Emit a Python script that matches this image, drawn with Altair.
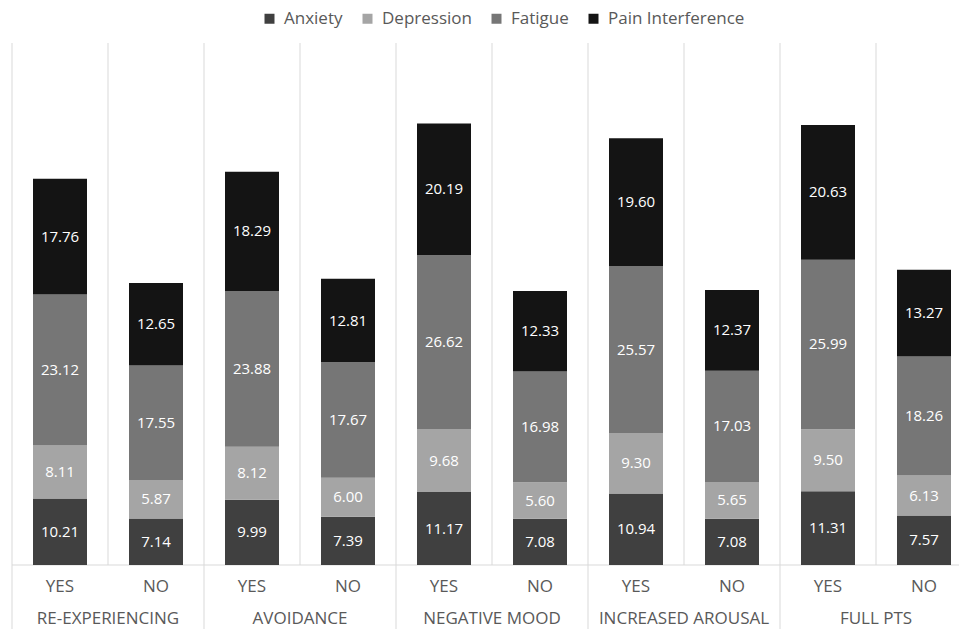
import altair as alt
import pandas as pd

# PTSD symptom cluster groups, each split into YES / NO
groups = ["RE-EXPERIENCING", "AVOIDANCE", "NEGATIVE MOOD", "INCREASED AROUSAL", "FULL PTS"]
answers = ["YES", "NO"]
measures = ["Anxiety", "Depression", "Fatigue", "Pain Interference"]
colors = ["#404040", "#a5a5a5", "#767676", "#141414"]

# one value per bar, bars ordered group by group (YES, NO)
anxiety = [10.21, 7.14, 9.99, 7.39, 11.17, 7.08, 10.94, 7.08, 11.31, 7.57]
depression = [8.11, 5.87, 8.12, 6.00, 9.68, 5.60, 9.30, 5.65, 9.50, 6.13]
fatigue = [23.12, 17.55, 23.88, 17.67, 26.62, 16.98, 25.57, 17.03, 25.99, 18.26]
pain = [17.76, 12.65, 18.29, 12.81, 20.19, 12.33, 19.60, 12.37, 20.63, 13.27]
series = [anxiety, depression, fatigue, pain]

rows = []
for i in range(len(groups) * len(answers)):
    for k, (m, vals) in enumerate(zip(measures, series)):
        rows.append(dict(slot=i + 0.5, group=groups[i // 2], answer=answers[i % 2],
                         measure=m, order=k, value=vals[i]))
df = pd.DataFrame(rows)

bars_df = pd.DataFrame({"slot": [i + 0.5 for i in range(10)],
                        "answer": [answers[i % 2] for i in range(10)]})
groups_df = pd.DataFrame({"slot": [2 * g + 1 for g in range(len(groups))], "group": groups})
minor_df = pd.DataFrame({"b": [1, 3, 5, 7, 9]})
major_df = pd.DataFrame({"b": [0, 2, 4, 6, 8]})
base_df = pd.DataFrame({"v": [0]})

W, H = 947, 522
SLOT = 96  # pixel width of one category slot
LINE = "#d9d9d9"
TEXT = "#595959"

xs = alt.Scale(domain=[0, W / SLOT], nice=False, zero=False, padding=0)
ys = alt.Scale(domain=[0, 80], nice=False)

minor = alt.Chart(minor_df).mark_rule(color=LINE, strokeWidth=1).encode(
    x=alt.X("b:Q", scale=xs, axis=None), y=alt.value(0), y2=alt.value(H))
major = alt.Chart(major_df).mark_rule(color=LINE, strokeWidth=1).encode(
    x=alt.X("b:Q", scale=xs, axis=None), y=alt.value(0), y2=alt.value(H + 64))
baseline = alt.Chart(base_df).mark_rule(color=LINE, strokeWidth=1).encode(
    y=alt.Y("v:Q", scale=ys, axis=None))

stacked = alt.Chart(df).transform_stack(
    stack="value", groupby=["slot"], as_=["y0", "y1"], sort=[alt.SortField("order")]
).transform_calculate(mid="(datum.y0 + datum.y1) / 2")

bars = stacked.mark_bar(size=54).encode(
    x=alt.X("slot:Q", scale=xs, axis=None),
    y=alt.Y("y0:Q", scale=ys, axis=None),
    y2="y1:Q",
    color=alt.Color(
        "measure:N",
        scale=alt.Scale(domain=measures, range=colors),
        legend=alt.Legend(
            title=None, orient="none", direction="horizontal",
            legendX=249, legendY=-33,
            symbolType="square", symbolSize=100, symbolStrokeWidth=0,
            labelFont="Open Sans", labelFontSize=17, labelColor=TEXT,
            labelOffset=6, columnPadding=16,
        ),
    ),
    order=alt.Order("order:Q"),
)

values = stacked.mark_text(color="white", font="Open Sans", fontSize=15, baseline="middle").encode(
    x=alt.X("slot:Q", scale=xs, axis=None),
    y=alt.Y("mid:Q", scale=ys, axis=None),
    text=alt.Text("value:Q", format=".2f"),
)

answer_labels = alt.Chart(bars_df).mark_text(
    font="Open Sans", fontSize=17, color=TEXT, baseline="middle").encode(
    x=alt.X("slot:Q", scale=xs, axis=None), y=alt.value(H + 22), text="answer:N")

group_labels = alt.Chart(groups_df).mark_text(
    font="Open Sans", fontSize=17, color=TEXT, baseline="middle").encode(
    x=alt.X("slot:Q", scale=xs, axis=None), y=alt.value(H + 54), text="group:N")

chart = alt.layer(minor, major, baseline, bars, values, answer_labels, group_labels).properties(
    width=W, height=H,
    autosize=alt.AutoSizeParams(type="none"),
    padding={"left": 12, "top": 43, "right": 0, "bottom": 64},
    background="white",
).configure_view(stroke=None)

chart.save("out.html", embed_options={"renderer": "svg", "actions": False})
